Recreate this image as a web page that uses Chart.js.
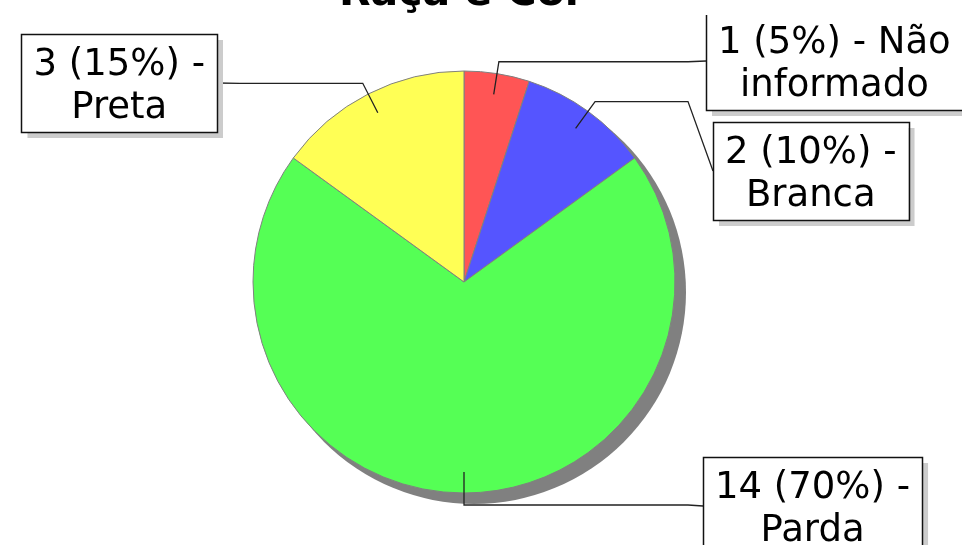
<!DOCTYPE html>
<html>
<head>
<meta charset="utf-8">
<script src="https://cdn.jsdelivr.net/npm/chart.js@4"></script>
<style>
  html, body { margin: 0; padding: 0; background: #fff; }
  canvas { display: block; }
</style>
</head>
<body>
<canvas id="grafico" width="962" height="545"></canvas>
<script>
/* ── dados ── */
const titulo      = 'Raça e Cor';
const categorias  = ['Não informado', 'Branca', 'Parda', 'Preta'];
const quantidades = [1, 2, 14, 3];
const cores       = ['#FF5555', '#5555FF', '#55FF55', '#FFFF55'];

/* ── posição das caixas de rótulo (layout) ── */
const caixas = [
  { x: 706, y: 12,  lado: 'dir' },
  { x: 713, y: 122, lado: 'dir' },
  { x: 703, y: 457, lado: 'dir' },
  { x: 217, y: 34,  lado: 'esq' },   // x = borda direita
];

const FONTE = '37px "DejaVu Sans", sans-serif';

function quebrar(ctx, texto, maxW) {
  const palavras = texto.split(' ');
  const linhas = [];
  let atual = '';
  palavras.forEach(p => {
    const teste = atual ? atual + ' ' + p : p;
    if (ctx.measureText(teste).width > maxW && atual) { linhas.push(atual); atual = p; }
    else atual = teste;
  });
  if (atual) linhas.push(atual);
  return linhas;
}

const sombraPizza = {
  id: 'sombraPizza',
  beforeDatasetsDraw(chart) {
    const arc = chart.getDatasetMeta(0).data[0];
    const ctx = chart.ctx;
    ctx.save();
    ctx.fillStyle = '#808080';
    ctx.beginPath();
    ctx.arc(arc.x + 10, arc.y + 10, arc.outerRadius + 1, 0, Math.PI * 2);
    ctx.fill();
    ctx.restore();
  }
};

const rotulos = {
  id: 'rotulos',
  afterDatasetsDraw(chart) {
    const ctx = chart.ctx;
    const meta = chart.getDatasetMeta(0);
    const total = quantidades.reduce((a, b) => a + b, 0);

    // título (cortado no topo, como no original)
    ctx.save();
    ctx.font = 'bold 41px "DejaVu Sans", sans-serif';
    ctx.fillStyle = '#000';
    ctx.textAlign = 'center';
    ctx.textBaseline = 'alphabetic';
    ctx.fillText(titulo, 462, 5);
    ctx.restore();

    ctx.save();
    ctx.beginPath();
    ctx.rect(0, 15, chart.width, chart.height);
    ctx.clip();
    ctx.font = FONTE;

    meta.data.forEach((arc, i) => {
      const pct = Math.round(quantidades[i] / total * 100);
      const linhas = quebrar(ctx, `${quantidades[i]} (${pct}%) - ${categorias[i]}`, 245);
      const w = Math.max(...linhas.map(l => ctx.measureText(l).width)) + 24;
      const h = 98;
      const c = caixas[i];
      const bx = c.lado === 'dir' ? c.x : c.x - w;
      const by = c.y;

      // linha guia
      const mid = (arc.startAngle + arc.endAngle) / 2;
      const R = arc.outerRadius;
      const ax = arc.x + Math.cos(mid) * R * 0.9, ay = arc.y + Math.sin(mid) * R * 0.9;
      const kx = arc.x + Math.cos(mid) * (R + 12), ky = arc.y + Math.sin(mid) * (R + 12);
      const ex = c.lado === 'dir' ? 688 : 240;
      const px = c.lado === 'dir' ? bx : bx + w;
      ctx.strokeStyle = '#222';
      ctx.lineWidth = 1.3;
      ctx.beginPath();
      ctx.moveTo(ax, ay);
      ctx.lineTo(kx, ky);
      ctx.lineTo(ex, ky);
      ctx.lineTo(px, by + h / 2);
      ctx.stroke();

      // caixa com sombra
      ctx.fillStyle = '#cccccc';
      ctx.fillRect(bx + 6, by + 6, w, h);
      ctx.fillStyle = '#fff';
      ctx.fillRect(bx, by, w, h);
      ctx.strokeStyle = '#111';
      ctx.lineWidth = 1.5;
      ctx.strokeRect(Math.round(bx) + 0.5, by + 0.5, Math.round(w), h);

      ctx.fillStyle = '#000';
      ctx.textAlign = 'center';
      ctx.textBaseline = 'alphabetic';
      linhas.forEach((l, k) => ctx.fillText(l, bx + w / 2, by + 41 + k * 43));
    });
    ctx.restore();
  }
};

new Chart(document.getElementById('grafico'), {
  type: 'pie',
  data: {
    labels: categorias,
    datasets: [{
      data: quantidades,
      backgroundColor: cores,
      borderColor: '#808080',
      borderWidth: 1,
      hoverOffset: 0,
    }],
  },
  options: {
    responsive: false,
    animation: false,
    radius: 211,
    layout: { padding: { top: 71, bottom: 52, left: 253, right: 287 } },
    plugins: {
      legend: { display: false },
      title: { display: false },
      tooltip: { enabled: false },
    },
  },
  plugins: [sombraPizza, rotulos],
});
</script>
</body>
</html>
